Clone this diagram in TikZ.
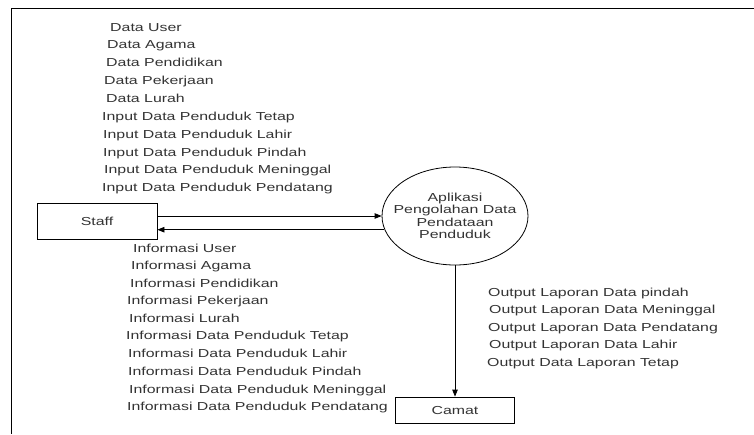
\documentclass[tikz,border=0pt]{standalone}
\usepackage{fontspec}
\usetikzlibrary{arrows.meta, positioning, shapes.geometric}
\newfontfamily\dfdfont[FakeStretch=1.37]{Liberation Sans}

\begin{document}
\begin{tikzpicture}[x=1pt,y=-1pt,font=\dfdfont\fontsize{11.6}{12.4}\selectfont]
  \tikzstyle{entity}=[draw,rectangle,line width=0.8pt,text=black!80]
  \tikzstyle{process}=[draw,ellipse,line width=0.8pt,align=center,inner xsep=-10pt,
    inner ysep=0pt,minimum width=146pt,minimum height=98pt,text=black!80]
  \tikzstyle{flow}=[-{Triangle[length=7pt,width=5.5pt]},line width=0.8pt]
  \tikzstyle{flowtext}=[anchor=base west,inner sep=0pt,text=black!80]

  \useasboundingbox (0,0) rectangle (754,434);
  \draw[line width=1pt] (754,8) -- (11,8) -- (11,434);

  \node[entity,minimum width=120pt,minimum height=36pt] (staff) at (97,221) {Staff};
  \node[process] (app) at (455,216) {Aplikasi\\Pengolahan Data\\Pendataan\\Penduduk};
  \node[entity,minimum width=119pt,minimum height=26pt] (camat) at (455,410) {Camat};

  \draw[flow] ([yshift=5pt]staff.east) -- (app.west);
  \draw[flow] (app.191) -- (staff.east |- app.191);
  \draw[flow] (app.south) -- (camat.north);

  % data masuk dari staff
  \foreach \x/\y/\t [count=\i] in {110/31.7/Data User, 107/48.5/Data Agama,
      106/66/Data Pendidikan, 104/84/Data Pekerjaan, 106/102/Data Lurah,
      102/120/Input Data Penduduk Tetap, 103/138/Input Data Penduduk Lahir,
      103/156/Input Data Penduduk Pindah, 104/173/Input Data Penduduk Meninggal,
      102/191/Input Data Penduduk Pendatang}
    \node[flowtext] (in\i) at (\x,\y) {\t};

  % informasi ke staff
  \foreach \x/\y/\t [count=\i] in {133/252/Informasi User, 131/269/Informasi Agama,
      130/287/Informasi Pendidikan, 127/304/Informasi Pekerjaan, 129/322/Informasi Lurah,
      126/339/Informasi Data Penduduk Tetap, 128/357/Informasi Data Penduduk Lahir,
      128/375/Informasi Data Penduduk Pindah, 129/393/Informasi Data Penduduk Meninggal,
      127/410/Informasi Data Penduduk Pendatang}
    \node[flowtext] (info\i) at (\x,\y) {\t};

  % laporan ke camat
  \foreach \x/\y/\t [count=\i] in {488/296/Output Laporan Data pindah,
      489/313/Output Laporan Data Meninggal, 488/331/Output Laporan Data Pendatang,
      489/348/Output Laporan Data Lahir, 487/366/Output Data Laporan Tetap}
    \node[flowtext] (out\i) at (\x,\y) {\t};
\end{tikzpicture}
\end{document}
